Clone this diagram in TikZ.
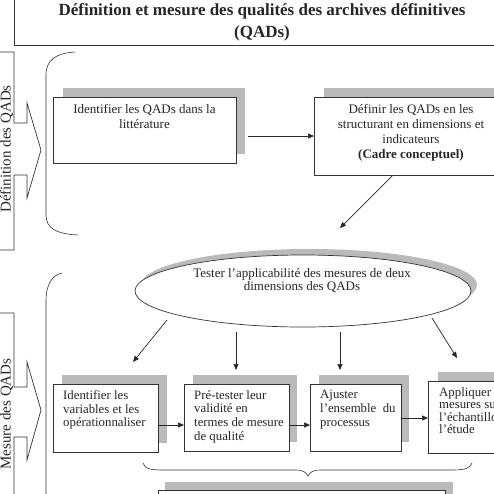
\documentclass[tikz,border=0pt]{standalone}
\usepackage{fontspec}
\setmainfont{Liberation Serif}
\usetikzlibrary{arrows.meta,shapes.geometric}
\begin{document}
\begin{tikzpicture}[x=1pt,y=-1pt,
  line/.style={draw=black!80, line width=0.7pt},
  shadowbox/.style={fill=black!27, draw=none, inner sep=0pt, anchor=north west},
  box/.style={draw=black!80, line width=0.7pt, fill=white, inner sep=0pt, anchor=north west},
  txt/.style={font=\fontsize{13}{15}\selectfont, text=black!85, inner sep=0pt},
  rowtxt/.style={font=\fontsize{12.8}{13.8}\selectfont, text=black!85, inner sep=0pt, align=left, anchor=north west},
  sidetxt/.style={font=\fontsize{15}{15}\selectfont, text=black!85, inner sep=0pt, rotate=90, anchor=base},
  arr/.style={draw=black!85, line width=0.7pt, -{Triangle[length=6pt,width=5pt]}}]
\useasboundingbox (0,0) rectangle (494,493);
\clip (0,0) rectangle (494,493);
% title
\node[box, minimum width=506, minimum height=55] (title) at (14,-10) {};
\node[txt, font=\fontsize{17}{22}\selectfont\bfseries, align=center, anchor=north] (titletxt) at (262,3) {Définition et mesure des qualités des archives définitives\\(QADs)};
% side arrows
\draw[line] (-5,52) -- (14,52) -- (14,123) -- (27,123) -- (27,103) -- (41,150) -- (27,198) -- (27,175) -- (14,175) -- (14,250) -- (-5,250);
\node[sidetxt] (side1) at (10.5,149) {Définition des QADs};
\draw[line] (-5,313) -- (14,313) -- (14,387) -- (27,387) -- (27,362) -- (41,410) -- (27,460) -- (27,437) -- (14,437) -- (14,500);
\node[sidetxt] (side2) at (10.5,414) {Mesure des QADs};
% brackets
\draw[line, line width=0.6pt] (75,52) .. controls (56,53) and (46,60) .. (46,75) -- (46,215) .. controls (46,228) and (56,234) .. (78,235);
\draw[line, line width=0.6pt] (62,273) .. controls (52,275) and (46,285) .. (46,300) -- (46,500);
% top boxes
\node[shadowbox, minimum width=182, minimum height=66] (s1) at (63,88) {};
\node[box, minimum width=183, minimum height=66] (b1) at (53,97) {};
\node[txt, align=center, anchor=north] (b1t) at (144.5,104) {Identifier les QADs dans la\\littérature};
\node[shadowbox, minimum width=196, minimum height=78] (s2) at (324,88) {};
\node[box, minimum width=196, minimum height=78] (b2) at (314,97) {};
\node[txt, align=center, anchor=north] (b2t) at (411,104) {Définir les QADs en les\\structurant en dimensions et\\indicateurs\\\textbf{(Cadre conceptuel)}};
\coordinate (a1s) at (248,136);
\coordinate (a1e) at (b2.west |- a1s);
\draw[arr] (a1s) -- (a1e);
\coordinate (a2s) at (392,176);
\coordinate (a2e) at (340,228);
\draw[arr] (a2s) -- (a2e);
% ellipse
\node[ellipse, fill=black!27, minimum width=336, minimum height=72, inner sep=0pt] (es) at (309,285) {};
\node[ellipse, draw=black!80, line width=0.7pt, fill=white, minimum width=336, minimum height=72, inner sep=0pt] (ell) at (303,291) {};
\node[txt, font=\fontsize{13}{13.5}\selectfont, align=center, anchor=north] (ellt) at (302,268) {Tester l’applicabilité des mesures de deux\\dimensions des QADs};
% row boxes
\node[shadowbox, minimum width=105, minimum height=68] (rs1) at (62,375) {};
\node[box, minimum width=105, minimum height=68] (r1) at (53,384) {};
\node[shadowbox, minimum width=104, minimum height=67] (rs2) at (193,375) {};
\node[box, minimum width=105, minimum height=67] (r2) at (184,384) {};
\node[shadowbox, minimum width=90, minimum height=67] (rs3) at (319,375) {};
\node[box, minimum width=91, minimum height=67] (r3) at (310,384) {};
\node[shadowbox, minimum width=92, minimum height=72] (rs4) at (438,372) {};
\node[box, minimum width=92, minimum height=72] (r4) at (428,381) {};
\node[rowtxt] (r1t) at (63,390) {Identifier les\\variables et les\\opérationnaliser};
\node[rowtxt] (r2t) at (194,390) {Pré-tester leur\\validité en\\termes de mesure\\de qualité};
\node[rowtxt] (r3t) at (320,390) {Ajuster\\l’ensemble~~du\\processus};
\node[rowtxt, font=\fontsize{12.8}{12.5}\selectfont] (r4t) at (439,387) {Appliquer les\\mesures sur\\l’échantillon\\l’étude};
% arrows from ellipse
\coordinate (e1s) at (167,320); \coordinate (e1e) at (133,362);
\coordinate (e2s) at (236,332); \coordinate (e2e) at (236,370);
\coordinate (e3s) at (340,332); \coordinate (e3e) at (340,370);
\coordinate (e4s) at (432,318); \coordinate (e4e) at (457,358);
\draw[arr] (e1s) -- (e1e);
\draw[arr] (e2s) -- (e2e);
\draw[arr] (e3s) -- (e3e);
\draw[arr] (e4s) -- (e4e);
% row arrows
\draw[arr] (r1.east |- 0,425) -- (r2.west |- 0,425);
\draw[arr] (r2.east |- 0,425) -- (r3.west |- 0,425);
\draw[arr] (r3.east |- 0,418) -- (r4.west |- 0,418);
% bottom brace
\draw[line, line width=0.6pt] (143,463) .. controls (145,469) and (150,470) .. (165,470) -- (295,470) .. controls (303,470) and (306,472) .. (308,476) .. controls (310,472) and (313,470) .. (321,470) -- (452,470) .. controls (466,470) and (470,468) .. (472,463);
% bottom box
\node[shadowbox, minimum width=288, minimum height=40] (bs) at (165,482) {};
\node[box, minimum width=287, minimum height=40] (bb) at (158,490) {};
\end{tikzpicture}
\end{document}
